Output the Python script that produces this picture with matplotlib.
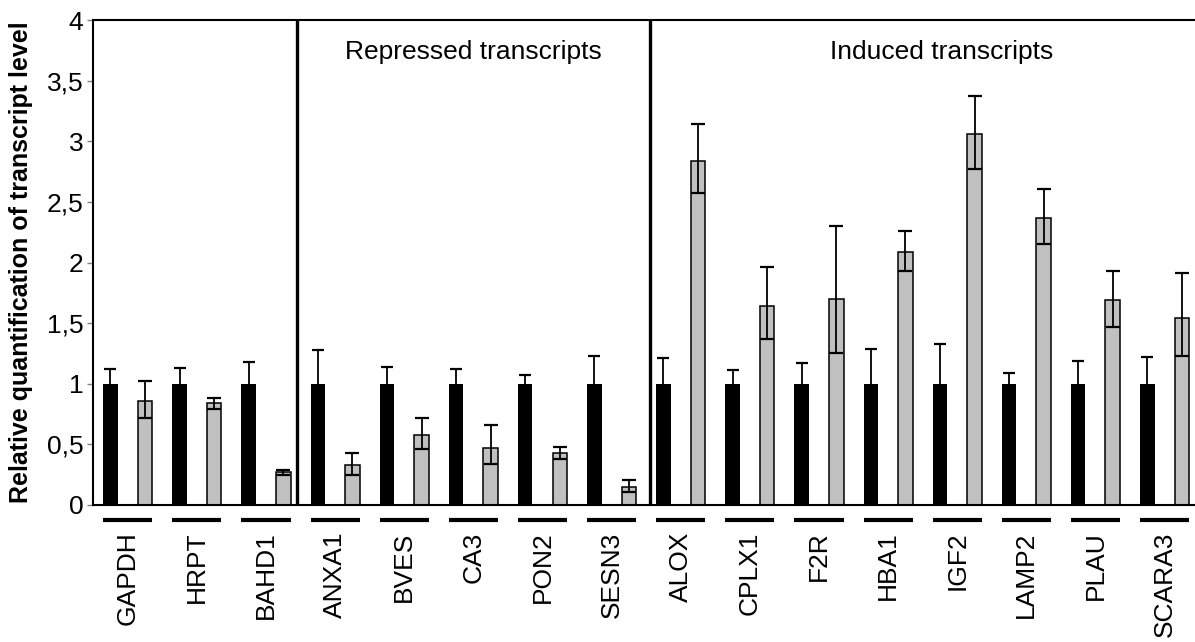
import numpy as np
import matplotlib
matplotlib.use("Agg")
import matplotlib.pyplot as plt
import matplotlib.transforms as mtransforms

plt.rcParams['font.family'] = ['Liberation Sans', 'DejaVu Sans']

# ---- data ----
genes = ["GAPDH", "HRPT", "BAHD1",
         "ANXA1", "BVES", "CA3", "PON2", "SESN3",
         "ALOX", "CPLX1", "F2R", "HBA1", "IGF2", "LAMP2", "PLAU", "SCARA3"]

control = [1, 1, 1, 1, 1, 1, 1, 1, 1, 1, 1, 1, 1, 1, 1, 1]
control_err = [0.12, 0.13, 0.18, 0.28, 0.14, 0.12, 0.07, 0.23,
               0.21, 0.11, 0.17, 0.29, 0.33, 0.09, 0.19, 0.22]

treated = [0.86, 0.84, 0.27, 0.33, 0.58, 0.47, 0.43, 0.15,
           2.84, 1.64, 1.70, 2.09, 3.06, 2.37, 1.69, 1.54]
treated_lo = [0.14, 0.05, 0.02, 0.08, 0.12, 0.13, 0.05, 0.04,
              0.27, 0.27, 0.45, 0.16, 0.29, 0.22, 0.22, 0.31]
treated_hi = [0.16, 0.04, 0.02, 0.095, 0.14, 0.19, 0.05, 0.06,
              0.30, 0.32, 0.60, 0.17, 0.31, 0.24, 0.24, 0.37]

y_ticks = [0, 0.5, 1, 1.5, 2, 2.5, 3, 3.5, 4]
y_ticklabels = ["0", "0,5", "1", "1,5", "2", "2,5", "3", "3,5", "4"]

sections = ["Repressed transcripts", "Induced transcripts"]

# ---- layout ----
fig = plt.figure(figsize=(11.95, 6.42), dpi=100)
ax = fig.add_axes([93 / 1195, 137 / 642, 1 - 93 / 1195, 485 / 642])

n = len(genes)
x_black = np.arange(n) * 2
x_gray = x_black + 1
width = 0.42

ax.bar(x_black, control, width, color="black", edgecolor="black", linewidth=0, zorder=2)
ax.bar(x_gray, treated, width, color="#c0c0c0", edgecolor="black", linewidth=1.1, zorder=2)

# black bars: symmetric bars, the lower half disappears inside the bar
ax.errorbar(x_black, control, yerr=control_err, fmt="none",
            ecolor="black", elinewidth=1.3, capsize=4.3, capthick=1.6, zorder=3)
ax.errorbar(x_gray, treated, yerr=[treated_lo, treated_hi], fmt="none",
            ecolor="black", elinewidth=1.3, capsize=5, capthick=1.6, zorder=3)

# section separators
for xs in (5.4, 15.6):
    ax.axvline(xs, ymin=0, ymax=0.995, color="black", linewidth=2.4, zorder=4)

ax.text(10.5, 3.74, sections[0], ha="center", va="center", fontsize=19)
ax.text(24.05, 3.74, sections[1], ha="center", va="center", fontsize=19)

# group underlines below the axis
trans = mtransforms.blended_transform_factory(ax.transData, ax.transAxes)
for xb, xg in zip(x_black, x_gray):
    ax.plot([xb - width / 2, xg + width / 2], [-0.031, -0.031], color="black",
            linewidth=3, transform=trans, clip_on=False, solid_capstyle="butt")

ax.set_xlim(-0.506, 31.38)
ax.set_ylim(0, 4)

ax.set_xticks(x_black + 0.5)
ax.set_xticklabels(genes, rotation=90, fontsize=19, va="top")
ax.tick_params(axis="x", length=0, pad=19)

ax.set_yticks(y_ticks)
ax.set_yticklabels(y_ticklabels, fontsize=19)
ax.tick_params(axis="y", direction="out", length=4.5, width=1, color="#808080", pad=2.5)

ax.set_ylabel("Relative quantification of transcript level", fontsize=18,
              fontweight="bold")
ax.yaxis.set_label_coords(-0.0544, 0.5)

for side in ("left", "bottom", "top"):
    ax.spines[side].set_linewidth(1.5)
    ax.spines[side].set_color("black")
ax.spines["right"].set_visible(False)

fig.savefig("out.png", dpi=100)
